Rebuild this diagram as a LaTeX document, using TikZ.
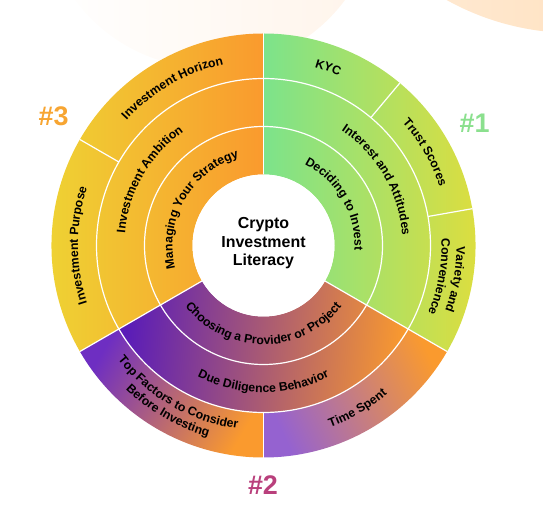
\documentclass[tikz,border=0pt]{standalone}
\usepackage{fontspec}
\setmainfont{Liberation Sans}
\usetikzlibrary{decorations.text}

\definecolor{grnA}{HTML}{7CE38B}
\definecolor{ylwA}{HTML}{E9DD35}
\definecolor{ylwB}{HTML}{EDD934}
\definecolor{orgA}{HTML}{FA9A2E}
\definecolor{purA}{HTML}{5A1CB8}
\definecolor{purB}{HTML}{9562D0}
\definecolor{purC}{HTML}{6E2EC2}
\definecolor{midA}{HTML}{DA8058}
\definecolor{peachL}{HTML}{FFEEDD}
\definecolor{peachR}{HTML}{FFD8AA}
\definecolor{peachF}{HTML}{FFF4EA}
\definecolor{numA}{HTML}{8BE08E}
\definecolor{numB}{HTML}{B9407C}
\definecolor{numC}{HTML}{F7A532}

% ring segment: start angle, end angle, inner radius, outer radius
\newcommand{\ringpart}[4]{(#1:#3) arc[start angle=#1, end angle=#2, radius=#3] -- (#2:#4) arc[start angle=#2, end angle=#1, radius=#4] -- cycle}
\newcommand{\lbl}{\bfseries\fontsize{12.3}{14}\selectfont}

\begin{document}
\begin{tikzpicture}[
		x=1bp, y=1bp,
		divider/.style={draw=white, line width=1.2bp},
		arclbl/.style={decorate, decoration={text along path, text align=center, text={|\lbl|#1}}},
		hashlbl/.style={font=\bfseries\fontsize{27}{30}\selectfont}
	]
		\useasboundingbox (-263.5,-259.5) rectangle (279.5,245.5);
		\clip (-263.5,-259.5) rectangle (279.5,245.5);
		% background blobs
		\shade[left color=white, right color=peachF] (-53.5,345.5) circle[radius=168];
		\shade[left color=peachL, right color=peachR] (310.5,474.5) circle[radius=262];
		% sectors
		\shade[left color=grnA, right color=ylwA] \ringpart{90}{-30}{71}{212};
		\shade[left color=ylwB, right color=orgA] \ringpart{90}{210}{71}{212};
		\shade[left color=purA, middle color=midA, right color=orgA, shading angle=85] \ringpart{210}{330}{71}{167};
		\shade[left color=purC, right color=orgA, shading angle=60] \ringpart{210}{270}{167}{212};
		\shade[left color=purB, right color=orgA, shading angle=115] \ringpart{270}{330}{167}{212};
		% dividers
		\draw[divider] (0,0) circle[radius=119];
		\draw[divider] (0,0) circle[radius=167];
		\foreach \a in {90,-30,210}
			\draw[divider] (\a:71) -- (\a:212);
		\foreach \a in {50,10,150,270}
			\draw[divider] (\a:167) -- (\a:212);
		\fill[white] (0,0) circle[radius=71];
		\node[align=center, font=\bfseries\fontsize{16}{18.5}\selectfont] (title) at (0,2) {Crypto\\Investment\\Literacy};
		% #1
		\path[arclbl={KYC}] (130:185.5) arc[start angle=130, end angle=10, radius=185.5];
		\path[arclbl={Trust Scores}] (90:185.5) arc[start angle=90, end angle=-30, radius=185.5];
		\path[arclbl={Variety and}] (50:193) arc[start angle=50, end angle=-70, radius=193];
		\path[arclbl={Convenience}] (50:178) arc[start angle=50, end angle=-70, radius=178];
		\path[arclbl={Interest and Attitudes}] (110:139) arc[start angle=110, end angle=-50, radius=139];
		\path[arclbl={Deciding to Invest}] (120:91) arc[start angle=120, end angle=-60, radius=91];
		% #2
		\path[arclbl={Choosing a Provider or Project}] (180:99) arc[start angle=180, end angle=360, radius=99];
		\path[arclbl={Due Diligence Behavior}] (200:147) arc[start angle=200, end angle=340, radius=147];
		\path[arclbl={Top Factors to Consider}] (170:185) arc[start angle=170, end angle=310, radius=185];
		\path[arclbl={Before Investing}] (170:199) arc[start angle=170, end angle=310, radius=199];
		\path[arclbl={Time Spent}] (240:193.5) arc[start angle=240, end angle=360, radius=193.5];
		% #3
		\path[arclbl={Managing Your Strategy}] (240:91) arc[start angle=240, end angle=60, radius=91];
		\path[arclbl={Investment Ambition}] (230:139) arc[start angle=230, end angle=70, radius=139];
		\path[arclbl={Investment Horizon}] (180:185.5) arc[start angle=180, end angle=60, radius=185.5];
		\path[arclbl={Investment Purpose}] (240:185.5) arc[start angle=240, end angle=120, radius=185.5];
		% section numbers
		\node[hashlbl, text=numA] (num1) at (211,122.2) {\#1};
		\node[hashlbl, text=numB] (num2) at (-0.5,-240) {\#2};
		\node[hashlbl, text=numC] (num3) at (-209.8,128.8) {\#3};
	\end{tikzpicture}
\end{document}
